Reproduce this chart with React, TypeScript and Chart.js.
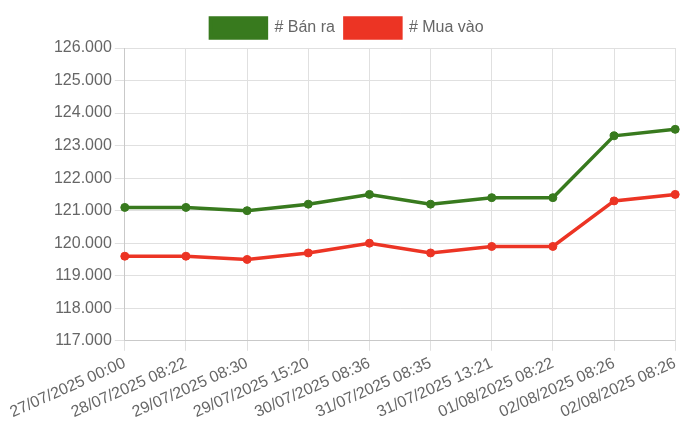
import { Chart, registerables } from "chart.js";
import { useEffect, useRef } from "react";

Chart.register(...registerables);

const labels = [
  "27/07/2025 00:00",
  "28/07/2025 08:22",
  "29/07/2025 08:30",
  "29/07/2025 15:20",
  "30/07/2025 08:36",
  "31/07/2025 08:35",
  "31/07/2025 13:21",
  "01/08/2025 08:22",
  "02/08/2025 08:26",
  "02/08/2025 08:26",
];

const banRa = [121100, 121100, 121000, 121200, 121500, 121200, 121400, 121400, 123300, 123500];
const muaVao = [119600, 119600, 119500, 119700, 120000, 119700, 119900, 119900, 121300, 121500];

const GREEN = "rgb(56, 122, 30)";
const RED = "rgb(236, 52, 36)";

const App = () => {
  const canvasRef = useRef<HTMLCanvasElement | null>(null);

  useEffect(() => {
    if (!canvasRef.current) return;
    Chart.defaults.font.family = "'Liberation Sans', Arial, sans-serif";
    Chart.defaults.font.size = 16;
    Chart.defaults.color = "#666";

    const chart = new Chart(canvasRef.current, {
      type: "line",
      data: {
        labels,
        datasets: [
          {
            label: "# Bán ra",
            data: banRa,
            borderColor: GREEN,
            backgroundColor: GREEN,
            borderWidth: 3.5,
            pointRadius: 4,
            pointBorderWidth: 1,
            pointBackgroundColor: GREEN,
            fill: false,
          },
          {
            label: "# Mua vào",
            data: muaVao,
            borderColor: RED,
            backgroundColor: RED,
            borderWidth: 3.5,
            pointRadius: 4,
            pointBorderWidth: 1,
            pointBackgroundColor: RED,
            fill: false,
          },
        ],
      },
      options: {
        animation: false,
        responsive: true,
        maintainAspectRatio: false,
        plugins: {
          legend: {
            labels: {
              boxWidth: 56,
              boxHeight: 20,
              font: { size: 16 },
            },
          },
          tooltip: { enabled: false },
        },
        scales: {
          x: {
            ticks: {
              maxRotation: 24,
              minRotation: 24,
              font: { size: 16 },
            },
            grid: { color: "#e0e0e0", tickLength: 10 },
          },
          y: {
            min: 117000,
            max: 126000,
            ticks: {
              stepSize: 1000,
              font: { size: 16 },
              callback: (v) => Number(v).toLocaleString("vi-VN"),
            },
            grid: { color: "#e0e0e0", tickLength: 10 },
          },
        },
      },
    });

    return () => {
      chart.destroy();
    };
  }, []);

  return (
    <div style={{ width: 678, height: 417 }}>
      <canvas ref={canvasRef}></canvas>
    </div>
  );
};

export default App;
